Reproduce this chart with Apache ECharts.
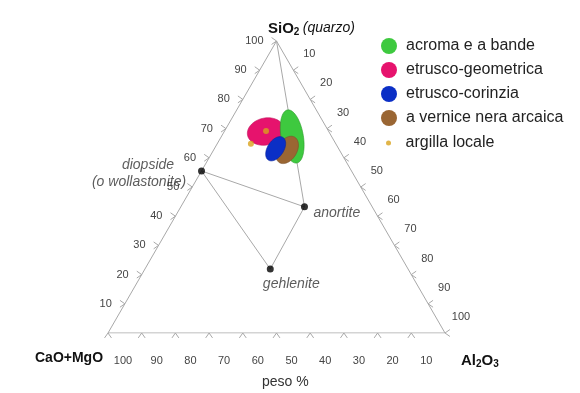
<!DOCTYPE html>
<html><head><meta charset="utf-8">
<script src="https://cdn.jsdelivr.net/npm/echarts@6/dist/echarts.min.js"></script>
<style>html,body{margin:0;padding:0;background:#fff}#c{width:580px;height:393px}</style>
</head><body><div id="c"></div>
<script>
// ---- data (weight %) ----
const tickValues = [10, 20, 30, 40, 50, 60, 70, 80, 90, 100];
const groupNames = ['acroma e a bande', 'etrusco-geometrica', 'etrusco-corinzia', 'a vernice nera arcaica'];
const groupSiO2 = [67.3, 69.0, 63.1, 62.7];
const groupAl2O3 = [21.0, 12.3, 18.2, 21.8];
const groupSpreadMajor = [8.0, 5.5, 4.0, 4.4];
const groupSpreadMinor = [3.3, 4.0, 2.4, 2.9];
const groupAngle = [100, 12, 57, 59];
const clayName = 'argilla locale';
const claySiO2 = [69.2, 64.8];
const clayAl2O3 = [12.3, 10.0];
const mineralNames = ['diopside', 'anortite', 'gehlenite'];
const mineralNotes = ['(o wollastonite)', '', ''];
const mineralSiO2 = [55.5, 43.2, 21.9];
const mineralAl2O3 = [0.0, 36.7, 37.2];
const quartzSiO2 = 100, quartzAl2O3 = 0;

// ---- styles ----
const groupColors = ['#3ec93f', '#e6136d', '#0b2fc6', '#9a6633'];
const groupStroke = ['#2a9a2a', '#c0105a', '#08239a', '#7a5028'];
const clayColor = '#d9a21c';
const lineGray = '#a8a8a8';
const FF = '"Liberation Sans", Arial, sans-serif';

const S3 = Math.sqrt(3) / 2;
function tern(si, al) { return [al + si / 2, si * S3]; } // CaO+MgO = 100 - si - al

function ellipseSeries(i) {
  return {
    type: 'custom', name: groupNames[i], coordinateSystem: 'cartesian2d', silent: true,
    itemStyle: { color: groupColors[i] },
    data: [[groupSiO2[i], groupAl2O3[i], groupSpreadMajor[i], groupSpreadMinor[i], groupAngle[i]]],
    renderItem: function (params, api) {
      const c = tern(api.value(0), api.value(1));
      const a = api.value(2), b = api.value(3), ang = api.value(4) * Math.PI / 180;
      const pts = [];
      for (let k = 0; k < 90; k++) {
        const t = k / 90 * 2 * Math.PI;
        const u = a * Math.cos(t), v = b * Math.sin(t);
        pts.push(api.coord([c[0] + u * Math.cos(ang) - v * Math.sin(ang), c[1] + u * Math.sin(ang) + v * Math.cos(ang)]));
      }
      return { type: 'polygon', shape: { points: pts }, style: { fill: groupColors[i], stroke: groupStroke[i], lineWidth: 0.6 } };
    }
  };
}

function chevron(p, dx, dy) {
  const L = 6, A = 35 * Math.PI / 180;
  const r = (s) => [p[0] + L * (dx * Math.cos(s * A) - dy * Math.sin(s * A)), p[1] + L * (dx * Math.sin(s * A) + dy * Math.cos(s * A))];
  return { type: 'polyline', shape: { points: [r(1), p, r(-1)] }, style: { stroke: lineGray, lineWidth: 1, fill: null } };
}
function tickText(x, y, t, align) {
  return { type: 'text', x: x, y: y, style: { text: t, fill: '#444', font: '11px ' + FF, align: align, verticalAlign: 'middle' } };
}

const triangle = [tern(0, 0), tern(0, 100), tern(100, 0), tern(0, 0)];
const tieLines = [
  tern(mineralSiO2[0], mineralAl2O3[0]), tern(mineralSiO2[1], mineralAl2O3[1]),
  tern(mineralSiO2[2], mineralAl2O3[2]), tern(mineralSiO2[0], mineralAl2O3[0])
];
const quartzLine = [tern(quartzSiO2, quartzAl2O3), tern(mineralSiO2[1], mineralAl2O3[1])];

const italic = { fontStyle: 'italic', fontSize: 14, fontFamily: FF, color: '#333' };
const mineralLabels = [
  { position: [-59, 6.5], align: 'center', verticalAlign: 'middle',
    formatter: '{a|' + mineralNames[0] + '}\n{b|' + mineralNotes[0] + '}',
    rich: { a: Object.assign({ padding: [0, 0, 0, 18], lineHeight: 17 }, italic),
            b: Object.assign({ lineHeight: 17 }, italic) } },
  { position: [12.5, 9.5], align: 'left', verticalAlign: 'middle', formatter: mineralNames[1] },
  { position: [24.5, 18.5], align: 'center', verticalAlign: 'middle', formatter: mineralNames[2] }
];

const chart = echarts.init(document.getElementById('c'), null, { renderer: 'canvas' });
const drawOrder = [1, 0, 3, 2];
chart.setOption({
  animation: false,
  textStyle: { fontFamily: FF },
  grid: { left: 108, top: 41, width: 337, height: 292 },
  xAxis: { type: 'value', min: 0, max: 100, show: false },
  yAxis: { type: 'value', min: 0, max: 100 * S3, show: false },
  legend: [
    { orient: 'vertical', left: 376, top: 33, itemWidth: 24, itemHeight: 16, itemGap: 8,
      icon: 'circle', selectedMode: false,
      textStyle: { fontSize: 16, color: '#222', fontFamily: FF },
      data: groupNames },
    { orient: 'vertical', left: 381, top: 130, itemWidth: 24, itemHeight: 5,
      icon: 'circle', selectedMode: false,
      textStyle: { fontSize: 16, color: '#222', fontFamily: FF },
      data: [clayName] }
  ],
  graphic: [
    { type: 'text', left: 268, top: 21, style: { text: '{b|SiO}{s|2} {i|(quarzo)}', rich: {
        b: { fontWeight: 'bold', fontSize: 15, fontFamily: FF, fill: '#111', lineHeight: 18 },
        s: { fontWeight: 'bold', fontSize: 10, fontFamily: FF, fill: '#111', lineHeight: 10, verticalAlign: 'bottom' },
        i: { fontStyle: 'italic', fontSize: 14, fontFamily: FF, fill: '#111', lineHeight: 18 } } } },
    { type: 'text', left: 35, top: 351, style: { text: 'CaO+MgO', fontWeight: 'bold', fontSize: 14, fontFamily: FF, fill: '#111' } },
    { type: 'text', left: 461, top: 353, style: { text: '{b|Al}{s|2}{b|O}{s|3}', rich: {
        b: { fontWeight: 'bold', fontSize: 15, fontFamily: FF, fill: '#111', lineHeight: 18 },
        s: { fontWeight: 'bold', fontSize: 10, fontFamily: FF, fill: '#111', lineHeight: 10, verticalAlign: 'bottom' } } } },
    { type: 'text', left: 262, top: 375, style: { text: 'peso %', fontSize: 14, fontFamily: FF, fill: '#333' } }
  ],
  series: [
    { type: 'line', data: triangle, symbol: 'none', silent: true, lineStyle: { color: lineGray, width: 1 }, z: 1 },
    { type: 'line', data: tieLines, symbol: 'none', silent: true, lineStyle: { color: lineGray, width: 1 }, z: 1 },
    { type: 'line', data: quartzLine, symbol: 'none', silent: true, lineStyle: { color: lineGray, width: 1 }, z: 1 },
    { type: 'custom', coordinateSystem: 'cartesian2d', silent: true, z: 1,
      data: tickValues.map(v => [v]),
      renderItem: function (params, api) {
        const v = api.value(0);
        const pl = api.coord(tern(v, 0));
        const pb = api.coord(tern(0, 100 - v));
        const pr = api.coord(tern(100 - v, v));
        return { type: 'group', children: [
          chevron(pl, -1, 0), tickText(pl[0] - 13, pl[1], String(v), 'right'),
          chevron(pb, 0, 1), tickText(pb[0] + 15, pb[1] + 28, String(v), 'center'),
          chevron(pr, 1, 0), tickText(pr[0] + 16, pr[1] - 16, String(v), 'center')
        ] };
      } },
    ...drawOrder.map(i => Object.assign(ellipseSeries(i), { z: 2 })),
    { type: 'scatter', name: clayName, z: 3, silent: true, symbolSize: 6,
      itemStyle: { color: clayColor },
      data: claySiO2.map((s, i) => tern(s, clayAl2O3[i])) },
    { type: 'scatter', name: 'minerali', z: 3, silent: true, symbolSize: 7,
      itemStyle: { color: '#000' },
      label: Object.assign({ show: true }, italic),
      data: mineralSiO2.map((s, i) => ({ value: tern(s, mineralAl2O3[i]), label: mineralLabels[i] })) }
  ]
});
</script>
</body></html>
